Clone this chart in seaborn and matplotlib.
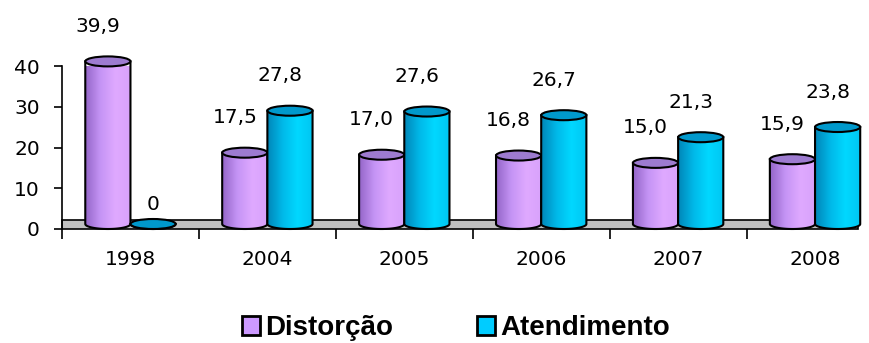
import numpy as np
import pandas as pd
import matplotlib
matplotlib.use("Agg")
import matplotlib.pyplot as plt
import seaborn as sns
from matplotlib.patches import Ellipse, PathPatch, Patch, Rectangle
from matplotlib.path import Path
from matplotlib.colors import LinearSegmentedColormap

years = ["1998", "2004", "2005", "2006", "2007", "2008"]
distorcao = [39.9, 17.5, 17.0, 16.8, 15.0, 15.9]
atendimento = [0.0, 27.8, 27.6, 26.7, 21.3, 23.8]
series_names = ["Distorção", "Atendimento"]
yticks = [0, 10, 20, 30, 40]

df = pd.DataFrame({
    "ano": years * 2,
    "valor": distorcao + atendimento,
    "serie": [series_names[0]] * len(years) + [series_names[1]] * len(years),
})

sns.set_style("white")
plt.rcParams["font.family"] = ["DejaVu Sans"]
plt.rcParams["text.color"] = "black"
plt.rcParams["xtick.color"] = "black"
plt.rcParams["ytick.color"] = "black"
plt.rcParams["axes.labelcolor"] = "black"

W, H = 870, 343
fig = plt.figure(figsize=(W / 100, H / 100), dpi=100)
ax = fig.add_axes([62 / W, 114 / H, (W - 62) / W, 163 / H])

face = {"Distorção": "#cc99ff", "Atendimento": "#00ccff"}
grad = {
    "Distorção": ["#9466c8", "#c594f5", "#dfa9ff", "#d8a2fb"],
    "Atendimento": ["#0086b8", "#00b8e8", "#00d8ff", "#00c6f2"],
}
capc = {"Distorção": "#9d7bd0", "Atendimento": "#0099cc"}

sns.barplot(data=df, x="ano", y="valor", hue="serie", order=years,
            hue_order=series_names, palette=face, width=0.66, gap=0,
            legend=False, ax=ax, errorbar=None)

ax.set_ylim(0, 40)
xl = (-0.5, (W - 130) / 137)
ax.set_xlim(*xl)

px_per_unit = 163 / 40.0
off = 5 / px_per_unit   # depth shift
hh = 5 / px_per_unit    # ellipse half height

# floor
floor_right = (858 - 130) / 137
ax.add_patch(Rectangle((-0.5, 0), floor_right + 0.5, 9 / px_per_unit,
                       facecolor="#c0c0c0", edgecolor="black", lw=1.2,
                       zorder=1, clip_on=False))

num_font = dict(family="DejaVu Sans", size=14.5, color="black")

for si, (cont, name) in enumerate(zip(ax.containers, series_names)):
    cmap = LinearSegmentedColormap.from_list(name, grad[name])
    for bar, v in zip(cont, df[df.serie == name]["valor"]):
        x0, w, h = bar.get_x(), bar.get_width(), bar.get_height()
        bar.set_visible(False)
        cx = x0 + w / 2
        bot, top = off, off + h
        t = np.linspace(np.pi, 2 * np.pi, 40)
        arc = np.column_stack([cx + w / 2 * np.cos(t), bot + hh * np.sin(t)])
        verts = [(x0, top)] + [tuple(p) for p in arc] + [(x0 + w, top), (x0, top)]
        codes = [Path.MOVETO] + [Path.LINETO] * (len(verts) - 2) + [Path.CLOSEPOLY]
        body = PathPatch(Path(verts, codes), facecolor="none", edgecolor="black",
                         lw=1.5, zorder=3 + si, clip_on=False)
        ax.add_patch(body)
        img = ax.imshow(np.linspace(0, 1, 64)[None, :], cmap=cmap, aspect="auto",
                        extent=(x0, x0 + w, bot - hh, top), zorder=2.9 + si,
                        interpolation="bilinear")
        img.set_clip_path(body)
        ax.add_patch(Ellipse((cx, top), w, 2 * hh, facecolor=capc[name],
                             edgecolor="black", lw=1.5, zorder=3.5 + si,
                             clip_on=False))
        lab = f"{v:.1f}".replace(".", ",") if v else "0"
        dx, dy = (-10, 40) if v else (0, 24)
        ax.annotate(lab, (cx, v), xytext=(dx * 0.72, dy * 0.72),
                    textcoords="offset points", ha="center", va="center",
                    annotation_clip=False, **num_font)

ax.set_xlim(*xl)
ax.set_ylim(0, 40)

ax.set_yticks(yticks)
ax.set_yticklabels([str(t) for t in yticks], **num_font)
ax.set_xticks(range(len(years)))
ax.set_xticklabels(years, **num_font)
ax.set_xticks(np.arange(-0.5, len(years) - 0.5, 1.0), minor=True)
ax.tick_params(axis="x", which="major", length=0, pad=15)
ax.tick_params(axis="x", which="minor", length=7, width=1.2, color="black",
               direction="out", bottom=True)
ax.tick_params(axis="y", length=6, width=1.2, color="black", direction="out",
               left=True, pad=10)
ax.set_xlabel("")
ax.set_ylabel("")
for s in ["top", "right"]:
    ax.spines[s].set_visible(False)
ax.spines["left"].set_color("black")
ax.spines["left"].set_linewidth(1.2)
ax.spines["bottom"].set_visible(False)

handles = [Patch(facecolor=face[n], edgecolor="black", lw=2) for n in series_names]
leg = fig.legend(handles, series_names, loc="center", bbox_to_anchor=(456 / W, 15 / H),
                 ncol=2, frameon=False,
                 prop={"family": "Liberation Sans", "weight": "bold", "size": 20},
                 handlelength=0.65, handleheight=0.65, handletextpad=0.18,
                 columnspacing=3.0, borderpad=0)
for txt in leg.get_texts():
    txt.set_color("black")

fig.savefig("out.png", dpi=100)
